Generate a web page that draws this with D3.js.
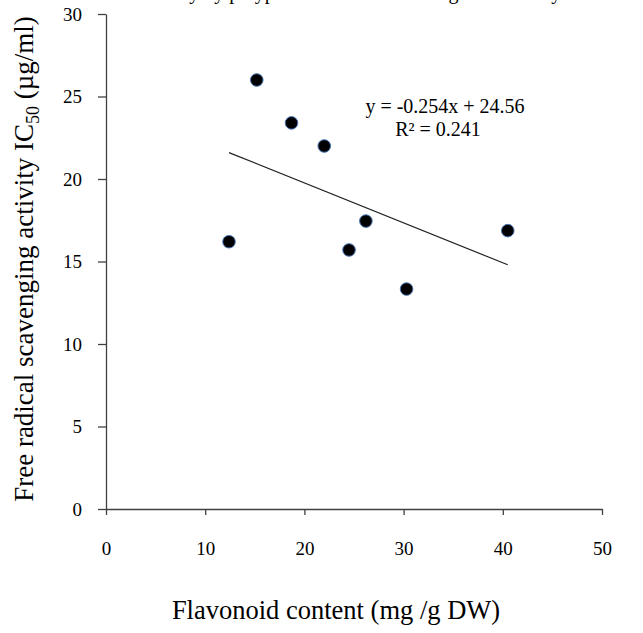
<!DOCTYPE html>
<html>
<head>
<meta charset="utf-8">
<script src="https://cdn.jsdelivr.net/npm/d3@7"></script>
<style>
  body { margin: 0; background: #fff; }
  text { font-family: "Liberation Serif", "Times New Roman", serif; fill: #000; }
</style>
</head>
<body>
<div id="chart"></div>
<script>
// Data
var flavonoid = [12.4, 15.2, 18.7, 22.0, 24.5, 26.2, 30.3, 40.5];
var ic50 = [16.2, 26.0, 23.4, 22.0, 15.7, 17.45, 13.33, 16.87];
var trendX = [12.4, 40.5];
var trendY = [21.6, 14.8];
var xTicks = [0, 10, 20, 30, 40, 50];
var yTicks = [0, 5, 10, 15, 20, 25, 30];
var equationLines = ["y = -0.254x + 24.56", "R\u00b2 = 0.241"];

var svgWidth = 643;
var svgHeight = 633;
var margin = { top: 14, right: 41, bottom: 124, left: 106 };
var width = svgWidth - margin.left - margin.right;
var height = svgHeight - margin.top - margin.bottom;

var svg = d3.select("#chart")
    .append("svg")
    .attr("width", svgWidth)
    .attr("height", svgHeight);

// title, mostly cut off by the top edge
svg.append("text")
    .attr("x", 300)
    .attr("y", -1)
    .attr("text-anchor", "middle")
    .style("font-size", "20px")
    .text("Antioxidant activity by polyphenol and flavonoid against activity");

var chartGroup = svg.append("g")
    .attr("transform", `translate(${margin.left}, ${margin.top})`);

var xScale = d3.scaleLinear().domain([0, 50]).range([0, width]);
var yScale = d3.scaleLinear().domain([0, 30]).range([height, 0]);

var bottomAxis = d3.axisBottom(xScale).tickValues(xTicks).tickSize(6).tickSizeOuter(0).tickPadding(27);
var leftAxis = d3.axisLeft(yScale).tickValues(yTicks).tickSize(8).tickSizeOuter(0).tickPadding(16);

var gx = chartGroup.append("g")
    .attr("transform", `translate(0, ${height})`)
    .call(bottomAxis);
var gy = chartGroup.append("g").call(leftAxis);

[gx, gy].forEach(function (g) {
    g.select(".domain").attr("stroke", "#404040").attr("stroke-width", 1.3);
    g.selectAll(".tick line").attr("stroke", "#404040").attr("stroke-width", 1.3);
    g.selectAll(".tick text")
        .style("font-family", "Liberation Serif, serif")
        .style("font-size", "19px")
        .attr("fill", "#000");
});

// trend line
chartGroup.append("line")
    .attr("x1", xScale(trendX[0]))
    .attr("y1", yScale(trendY[0]))
    .attr("x2", xScale(trendX[1]))
    .attr("y2", yScale(trendY[1]))
    .attr("stroke", "#222")
    .attr("stroke-width", 1.2);

// points
chartGroup.append("g")
    .selectAll("circle")
    .data(flavonoid)
    .enter()
    .append("circle")
    .attr("cx", d => xScale(d))
    .attr("cy", (d, i) => yScale(ic50[i]))
    .attr("r", 6.3)
    .attr("fill", "#000")
    .attr("stroke", "#4a78b8")
    .attr("stroke-width", 1);

// equation
svg.append("text")
    .style("font-size", "20px")
    .selectAll("tspan")
    .data(equationLines)
    .enter()
    .append("tspan")
    .attr("text-anchor", "middle")
    .attr("x", (d, i) => i === 0 ? 445 : 438)
    .attr("y", (d, i) => 113 + i * 23)
    .text(d => d);

// axis titles
svg.append("text")
    .attr("x", 336)
    .attr("y", 619)
    .attr("text-anchor", "middle")
    .style("font-size", "26.5px")
    .text("Flavonoid content (mg /g DW)");

var yLabel = svg.append("text")
    .attr("transform", "translate(33, 259) rotate(-90)")
    .attr("text-anchor", "middle")
    .style("font-size", "27px");
yLabel.append("tspan").text("Free radical scavenging activity IC");
yLabel.append("tspan").attr("dy", 6).style("font-size", "18px").text("50");
yLabel.append("tspan").attr("dy", -6).text(" (\u00b5g/ml)");
</script>
</body>
</html>
